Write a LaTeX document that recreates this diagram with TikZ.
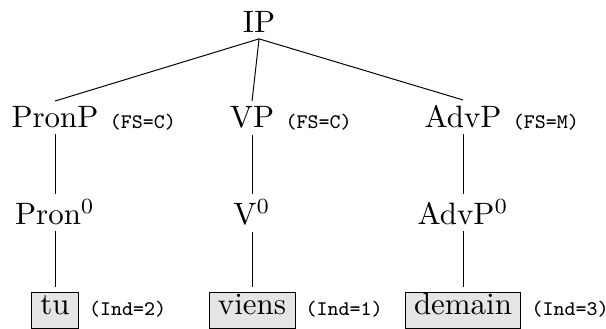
\documentclass[tikz,border=0pt]{standalone}
\usepackage{fontspec}
\usepackage{tikz}
\usetikzlibrary{positioning}

\begin{document}
\begin{tikzpicture}[scale=1.728, x=0.3233pt, y=-0.3233pt, line width=0.55pt,
  cat/.style={transform shape, inner sep=1.62pt, anchor=base},
  word/.style={transform shape, draw, fill=black!10, inner xsep=2.9pt, inner ysep=0.58pt,
               outer sep=1.62pt, text height=6.83pt, text depth=3.65pt, anchor=base},
  feat/.style={transform shape, font=\fontsize{6.7}{8}\selectfont\ttfamily, inner sep=1.5pt, anchor=base west}]
\useasboundingbox (0,0) rectangle (606,329);

% categories
\path (259,33) node[cat] (ip) {IP}
      (55,128) node[cat] (pronp) {PronP}
      (252,128) node[cat] (vp) {VP}
      (463,128) node[cat] (advp) {AdvP}
      (55,225) node[cat] (pron0) {Pron$^0$}
      (252,225) node[cat] (v0) {V$^0$}
      (463,225) node[cat] (advp0) {AdvP$^0$};

% words
\path (55,315) node[word] (tu) {tu}
      (252,315) node[word] (viens) {viens}
      (463,315) node[word] (demain) {demain};

% features
\path (pronp.base east) node[feat] (pronpfs) {(FS=C)}
      (vp.base east) node[feat] (vpfs) {(FS=C)}
      (advp.base east) node[feat] (advpfs) {(FS=M)}
      (tu.base east) node[feat] (tuind) {(Ind=2)}
      (viens.base east) node[feat] (viensind) {(Ind=1)}
      (demain.base east) node[feat] (demainind) {(Ind=3)};

\draw (ip.south) -- (pronp.north);
\draw (ip.south) -- (vp.north);
\draw (ip.south) -- (advp.north);
\draw (pronp.south) -- (pron0.north);
\draw (vp.south) -- (v0.north);
\draw (advp.south) -- (advp0.north);
\draw (pron0.south) -- (tu.north);
\draw (v0.south) -- (viens.north);
\draw (advp0.south) -- (demain.north);

\end{tikzpicture}
\end{document}
